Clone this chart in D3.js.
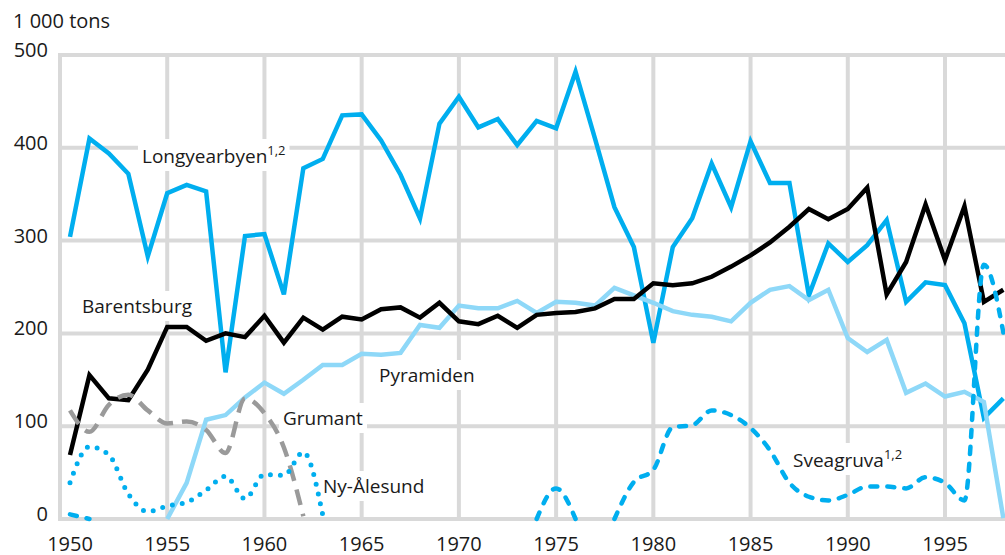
<!DOCTYPE html>
<html>
<head>
<meta charset="utf-8">
<script src="https://cdn.jsdelivr.net/npm/d3@7"></script>
<style>
  html, body { margin: 0; padding: 0; background: #fff; }
  svg text { font-family: "Open Sans", "Noto Sans", sans-serif; fill: #1a1a1a; }
</style>
</head>
<body>
<div id="chart"></div>
<script>
// years 1950..1998
const years = d3.range(1950, 1999);
const yTicks = [0, 100, 200, 300, 400, 500];
const xTicks = [1950, 1955, 1960, 1965, 1970, 1975, 1980, 1985, 1990, 1995];

const longyearbyen = [304, 410, 394, 372, 283, 351, 360, 353, 158, 305,
  307, 242, 378, 388, 435, 436, 408, 371, 324, 426,
  455, 422, 431, 403, 429, 421, 482, 410, 336, 293,
  190, 293, 324, 383, 336, 407, 362, 362, 241, 297,
  277, 295, 322, 234, 255, 252, 211, 109, 130];

const barentsburg = [69, 155, 130, 128, 161, 207, 207, 192, 200, 196,
  219, 190, 217, 204, 218, 215, 226, 228, 217, 233,
  213, 210, 219, 206, 220, 222, 223, 227, 237, 237,
  254, 252, 254, 261, 272, 284, 298, 315, 334, 323,
  334, 357, 242, 277, 339, 279, 337, 234, 247];

const pyramiden = [null, null, null, null, null, 0, 39, 107, 112, 131,
  147, 135, 150, 166, 166, 178, 177, 179, 209, 206,
  230, 227, 227, 235, 222, 234, 233, 230, 249, 241,
  233, 224, 220, 218, 213, 233, 247, 251, 236, 247,
  195, 180, 193, 136, 146, 132, 137, 126, 1];

const grumant = [117, 94, 123, 134, 117, 103, 105, 96, 71, 130,
  114, 77, 3];

const nyAlesund = [39, 78, 69, 27, 8, 14, 18, 31, 46, 22,
  48, 47, 72, 4];

const sveagruva = [5, 0, null, null, null, null, null, null, null, null,
  null, null, null, null, null, null, null, null, null, null,
  null, null, null, null, 0, 33, 0, null, 0, 40,
  53, 99, 101, 117, 112, 98, 74, 39, 24, 20,
  26, 35, 35, 33, 45, 39, 20, 274, 201];

const W = 1005, H = 555;
const svg = d3.select('#chart').append('svg')
  .attr('width', W).attr('height', H);

const x = d3.scaleLinear().domain([1950, 1995]).range([70, 945]);
const y = d3.scaleLinear().domain([0, 500]).range([519, 55]);
const left = 60, right = W;

const grid = svg.append('g').attr('stroke', '#d9d9d9').attr('stroke-width', 4);
grid.selectAll('.h').data(yTicks).join('line')
  .attr('x1', left - 2).attr('x2', right)
  .attr('y1', d => y(d)).attr('y2', d => y(d));
grid.selectAll('.v').data(xTicks.filter(d => d > 1950)).join('line')
  .attr('x1', d => x(d)).attr('x2', d => x(d))
  .attr('y1', y(500)).attr('y2', y(0));
grid.append('line')
  .attr('x1', left).attr('x2', left)
  .attr('y1', y(500)).attr('y2', y(0));

// axis labels
svg.append('g').selectAll('text').data(yTicks).join('text')
  .attr('x', 48).attr('y', d => y(d) + 2)
  .attr('text-anchor', 'end')
  .style('font-size', '20px')
  .text(d => d);

svg.append('g').selectAll('text').data(xTicks).join('text')
  .attr('x', d => x(d)).attr('y', 551)
  .attr('text-anchor', 'middle')
  .style('font-size', '20px')
  .text(d => d);

svg.append('text').attr('x', 13).attr('y', 28)
  .style('font-size', '20px').text('1 000 tons');

// series labels with white boxes
const labels = [
  { name: 'Longyearbyen', sup: '1,2', x: 142, y: 163 },
  { name: 'Barentsburg', sup: null, x: 82, y: 313 },
  { name: 'Pyramiden', sup: null, x: 379, y: 382 },
  { name: 'Grumant', sup: null, x: 283, y: 425 },
  { name: 'Ny-Ålesund', sup: null, x: 323, y: 493 },
  { name: 'Sveagruva', sup: '1,2', x: 793, y: 467 }
];
const boxG = svg.append('g');
const lineG = svg.append('g');
const textG = svg.append('g');

labels.forEach(l => {
  const t = textG.append('text').attr('x', l.x).attr('y', l.y)
    .style('font-size', '19px');
  t.append('tspan').text(l.name);
  if (l.sup) {
    t.append('tspan').attr('dy', -8).style('font-size', '13px').text(l.sup);
  }
  const b = t.node().getBBox();
  boxG.append('rect')
    .attr('x', b.x - 4).attr('y', b.y - 2)
    .attr('width', b.width + 8).attr('height', b.height + 4)
    .attr('fill', '#fff');
});

const series = [
  { values: longyearbyen, color: '#00aeef', curve: d3.curveLinear, dash: null },
  { values: pyramiden, color: '#8ed8f8', curve: d3.curveLinear, dash: null },
  { values: barentsburg, color: '#000', curve: d3.curveLinear, dash: null },
  { values: grumant, color: '#9a9a9a', curve: d3.curveMonotoneX, dash: '16,9', cap: 'butt' },
  { values: nyAlesund, color: '#00aeef', curve: d3.curveMonotoneX, dash: '0,10', cap: 'round' },
  { values: sveagruva, color: '#00aeef', curve: d3.curveMonotoneX, dash: '7,10', cap: 'round' }
];

series.forEach(s => {
  const pts = s.values.map((v, i) => [years[i], v]);
  const line = d3.line()
    .defined(d => d[1] != null)
    .x(d => x(d[0])).y(d => y(d[1]))
    .curve(s.curve);
  lineG.append('path')
    .datum(pts)
    .attr('d', line)
    .attr('fill', 'none')
    .attr('stroke', s.color)
    .attr('stroke-width', s.dash === '0,10' ? 5 : 4.5)
    .attr('stroke-linejoin', 'miter')
    .attr('stroke-linecap', s.cap || 'butt')
    .attr('stroke-dasharray', s.dash);
});
</script>
</body>
</html>
